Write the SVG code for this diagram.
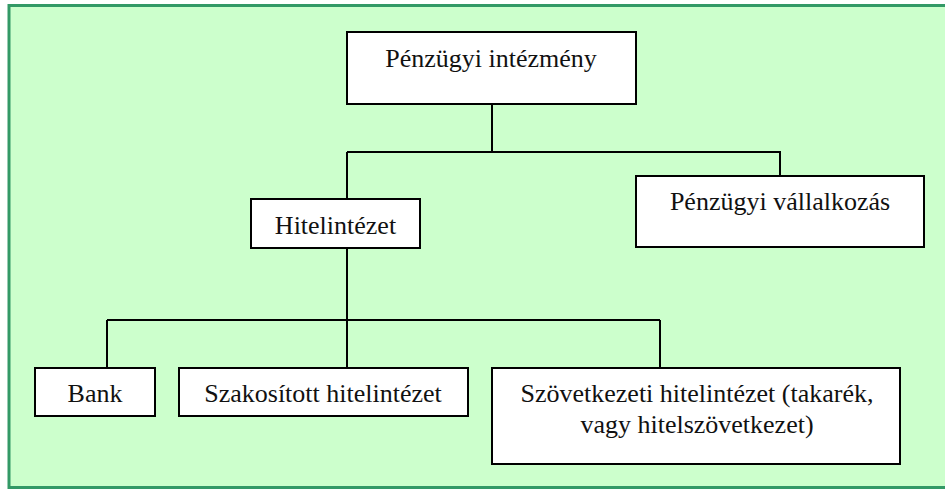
<svg xmlns="http://www.w3.org/2000/svg" width="945" height="489" viewBox="0 0 945 489">
<style>
.box{fill:#ffffff;stroke:#000000;stroke-width:2}
.lbl{font-family:'Liberation Serif','Tinos','DejaVu Serif',serif;font-size:26px;fill:#111111;text-anchor:middle}
.con{fill:none;stroke:#000000;stroke-width:2}
</style>
<rect x="9" y="5.5" width="960" height="482" fill="#ccffcc" stroke="#339966" stroke-width="3"/>
<g id="connectors">
<path class="con" d="M492 104 V152 M347 152 H780 V176 M347 152 V199"/>
<path class="con" d="M347 248 V320 M107 320 H660 M107 320 V368 M347 320 V368 M660 320 V368"/>
</g>
<g id="penzugyi-intezmeny">
<rect class="box" x="347" y="32" width="289" height="72"/>
<text class="lbl" x="491" y="67">Pénzügyi intézmény</text>
</g>
<g id="penzugyi-vallalkozas">
<rect class="box" x="636" y="176" width="288" height="71"/>
<text class="lbl" x="780" y="210">Pénzügyi vállalkozás</text>
</g>
<g id="hitelintezet">
<rect class="box" x="251" y="199" width="169" height="49"/>
<text class="lbl" x="335.5" y="234">Hitelintézet</text>
</g>
<g id="bank">
<rect class="box" x="35" y="368" width="120" height="48"/>
<text class="lbl" x="95" y="402">Bank</text>
</g>
<g id="szakositott">
<rect class="box" x="179" y="368" width="289" height="48"/>
<text class="lbl" x="323" y="402">Szakosított hitelintézet</text>
</g>
<g id="szovetkezeti">
<rect class="box" x="492" y="368" width="408" height="96"/>
<text class="lbl" x="697" y="402">Szövetkezeti hitelintézet (takarék,</text>
<text class="lbl" x="697" y="433">vagy hitelszövetkezet)</text>
</g>
</svg>
